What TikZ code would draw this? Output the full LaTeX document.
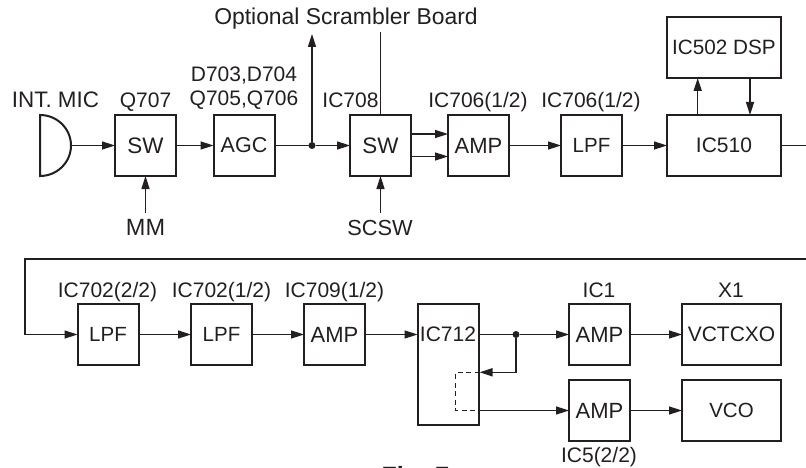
\documentclass[tikz,border=0pt]{standalone}
\usepackage{fontspec}
\setmainfont{Liberation Sans}
\usetikzlibrary{arrows.meta}
\definecolor{ink}{HTML}{231F20}
\tikzset{
  x=1pt,y=-1pt,
  fsz/.style={font=\fontsize{#1}{24}\selectfont},
  every node/.style={fsz=21,text=ink,inner sep=0pt,outer sep=0pt},
  blk/.style={draw=ink,line width=2pt,minimum height=61pt,minimum width=61pt,anchor=north west,fill=white},
  lab/.style={anchor=base},
  conn/.style={draw=ink,line width=1.5pt},
  arr/.style={conn,-{Triangle[length=13pt,width=8pt]}},
  dot/.style={circle,fill=ink,minimum size=7pt,draw=none},
}
\begin{document}
\begin{tikzpicture}
\useasboundingbox (0,0) rectangle (806,468);
\begin{scope}
\clip (0,0) rectangle (806,468);
% mic
\draw[draw=ink,line width=2pt,fill=white] (40,115) arc[start angle=-90,end angle=90,x radius=31,y radius=30.5] -- cycle;
\coordinate (mic) at (71,145.5);
\node[blk,fsz=22.4] (sw1) at (115,115) {SW};
\node[blk,fsz=21.5] (agc) at (213.5,115) {AGC};
\node[blk,fsz=22.4] (sw2) at (350,115) {SW};
\node[blk,fsz=22] (amp1) at (448,115) {AMP};
\node[blk,fsz=20.5] (lpf1) at (561,115) {LPF};
\node[blk,minimum width=114pt] (ic510) at (667,115) {IC510};
\node[blk,minimum width=114pt,fsz=20.7] (dsp) at (667,17) {IC502 DSP};
\node[blk,fsz=20.5] (lpf2) at (77.5,304) {LPF};
\node[blk,fsz=20.5] (lpf3) at (191,304) {LPF};
\node[blk,fsz=22] (amp2) at (304,304) {AMP};
\node[blk,minimum height=121pt] (ic712) at (417.5,304) {};
\node[anchor=base] (ic712t) at (448,341.7) {IC712};
\node[blk,fsz=22] (amp3) at (569,304) {AMP};
\node[blk,minimum width=99pt] (vctcxo) at (682,304) {VCTCXO};
\node[blk,fsz=22] (amp4) at (569,380) {AMP};
\node[blk,minimum width=99pt,fsz=20.5] (vco) at (682,380) {VCO};
% labels
\node[lab,fsz=22.4] (l1) at (55.5,108) {INT. MIC};
\node[lab] (l2) at (145.5,108) {Q707};
\node[lab] (l3) at (244,81.7) {D703,D704};
\node[lab] (l4) at (244,106) {Q705,Q706};
\node[lab] (l5) at (350.5,108) {IC708};
\node[lab] (l6) at (478,108) {IC706(1/2)};
\node[lab] (l7) at (591,108) {IC706(1/2)};
\node[lab,fsz=22.9] (l8) at (346,25) {Optional Scrambler Board};
\node[lab,fsz=23.5] (l9) at (145.5,235.7) {MM};
\node[lab,fsz=21.8] (l10) at (380,235.7) {SCSW};
\node[lab] (l11) at (107.5,297.3) {IC702(2/2)};
\node[lab] (l12) at (221.5,297.3) {IC702(1/2)};
\node[lab] (l13) at (334.5,297.3) {IC709(1/2)};
\node[lab] (l14) at (599,297.3) {IC1};
\node[lab] (l15) at (731,297.3) {X1};
\node[lab] (l16) at (599,462.7) {IC5(2/2)};
\node[lab,font=\fontsize{25}{27}\selectfont\bfseries] (fig) at (415.5,484.5) {Fig. 7};
% junctions and free ends
\node[dot] (j1) at (312,145.5) {};
\node[dot] (j2) at (516,334.5) {};
\coordinate (top1) at (312,34);
\coordinate (top2) at (380.5,32);
\coordinate (mm) at (145.5,213);
\coordinate (sc) at (380.5,213);
\coordinate (r) at (806,145.5);
\coordinate (r2) at (806,259);
\coordinate (l) at (25,259);
\coordinate (ret) at (479.5,372.3);
\coordinate (dL1) at (455.7,372.3);
\coordinate (dL2) at (455.7,410.5);
\coordinate (dR) at (479.5,410.5);
% connectors
\draw[arr] (mic) -- (sw1.west);
\draw[arr] (sw1.east) -- (agc.west);
\draw[conn] (agc.east) -- (j1);
\draw[arr] (j1) -- (sw2.west);
\draw[arr] (j1) -- (top1);
\draw[conn] (sw2.north) -- (top2);
\draw[arr] (mm) -- (sw1.south);
\draw[arr] (sc) -- (sw2.south);
\draw[arr] (sw2.east |- 0,134) -- (amp1.west |- 0,134);
\draw[arr] (sw2.east |- 0,156.5) -- (amp1.west |- 0,156.5);
\draw[arr] (amp1.east) -- (lpf1.west);
\draw[arr] (lpf1.east) -- (ic510.west);
\draw[arr] (ic510.north -| 697.7,0) -- (dsp.south -| 697.7,0);
\draw[arr] (dsp.south -| 750,0) -- (ic510.north -| 750,0);
\draw[conn] (ic510.east) -- (r);
\draw[conn] (r2) -- (l) -- (l |- lpf2.west);
\draw[arr] (l |- lpf2.west) -- (lpf2.west);
\draw[arr] (lpf2.east) -- (lpf3.west);
\draw[arr] (lpf3.east) -- (amp2.west);
\draw[arr] (amp2.east) -- (ic712.west |- amp2.east);
\draw[conn] (ic712.east |- j2) -- (j2);
\draw[arr] (j2) -- (amp3.west);
\draw[arr] (amp3.east) -- (vctcxo.west);
\draw[arr] (j2) |- (ret);
\draw[conn,line width=1.2pt,dash pattern=on 5pt off 3.5pt] (ret) -- (dL1) -- (dL2) -- (dR);
\draw[arr] (dR) -- (amp4.west);
\draw[arr] (amp4.east) -- (vco.west);
\end{scope}
\end{tikzpicture}
\end{document}
